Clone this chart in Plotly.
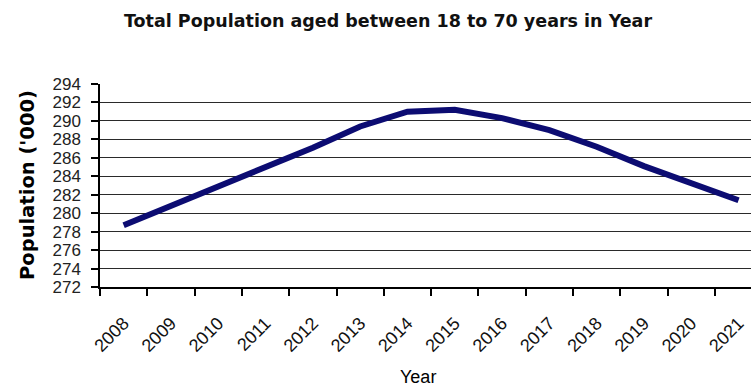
import plotly.graph_objects as go

years = ["2008", "2009", "2010", "2011", "2012", "2013", "2014",
         "2015", "2016", "2017", "2018", "2019", "2020", "2021"]
population = [278.7, 280.8, 282.9, 284.9, 287.1, 289.4, 291.0,
              291.2, 290.3, 289.0, 287.2, 285.1, 283.2, 281.4]
y_ticks = list(range(272, 295, 2))

idx = list(range(len(years)))

fig = go.Figure()
fig.add_trace(go.Scatter(
    x=idx, y=population, mode="lines",
    line=dict(color="#0c0c72", width=6),
    hoverinfo="skip", showlegend=False,
))

W, H = 751, 388
L, R, T, B = 100, 0, 84, 101
cat_w = 47.3
visible = (W - L - R) / cat_w

fig.update_layout(
    width=W, height=H,
    margin=dict(l=L, r=R, t=T, b=B),
    paper_bgcolor="white", plot_bgcolor="white",
    font=dict(family="Liberation Sans, Arial", color="#111"),
    title=dict(
        text="<b>Total Population aged between 18 to 70 years in Year</b>",
        x=388 / W, xanchor="center", y=1 - 21 / H, yanchor="middle",
        font=dict(family="DejaVu Sans", size=17.5, color="#111"),
    ),
    xaxis=dict(
        range=[-0.5, -0.5 + visible],
        tickvals=idx, ticktext=years, tickangle=-45,
        ticks="", showgrid=False, zeroline=False,
        showline=True, linecolor="#000", linewidth=1.5,
        tickfont=dict(size=18, family="Liberation Sans, Arial", color="#111"),
        ticklabelstandoff=17,
        minor=dict(tickvals=[i - 0.5 for i in range(len(years) + 1)],
                   ticks="outside", ticklen=7, tickcolor="#000", tickwidth=1.5, showgrid=False),
        fixedrange=True,
    ),
    yaxis=dict(
        range=[272, 294], tickvals=y_ticks,
        ticks="outside", ticklen=7, tickcolor="#000", tickwidth=1.5,
        showgrid=True, gridcolor="#2a2a2a", gridwidth=1.3,
        showline=True, linecolor="#000", linewidth=1.5,
        zeroline=False,
        tickfont=dict(size=17, family="Liberation Sans, Arial", color="#222"),
        ticklabelstandoff=7,
        fixedrange=True,
    ),
    annotations=[
        dict(text="<b>Population ('000)</b>", x=27, y=185, xref="paper", yref="paper",
             showarrow=False, textangle=-90,
             font=dict(family="DejaVu Sans", size=19.5, color="#000")),
        dict(text="Year", x=418, y=377, xref="paper", yref="paper",
             showarrow=False,
             font=dict(family="Liberation Sans, Arial", size=18, color="#000")),
    ],
)

# convert pixel positions of annotations to paper coords
pw = W - L - R
ph = H - T - B
anns = []
for a in fig.layout.annotations:
    a = a.to_plotly_json()
    a["x"] = (a["x"] - L) / pw
    a["y"] = (H - B - a["y"]) / ph
    a["xanchor"] = "center"
    a["yanchor"] = "middle"
    anns.append(a)
fig.layout.annotations = anns

fig.write_html("out.html")
